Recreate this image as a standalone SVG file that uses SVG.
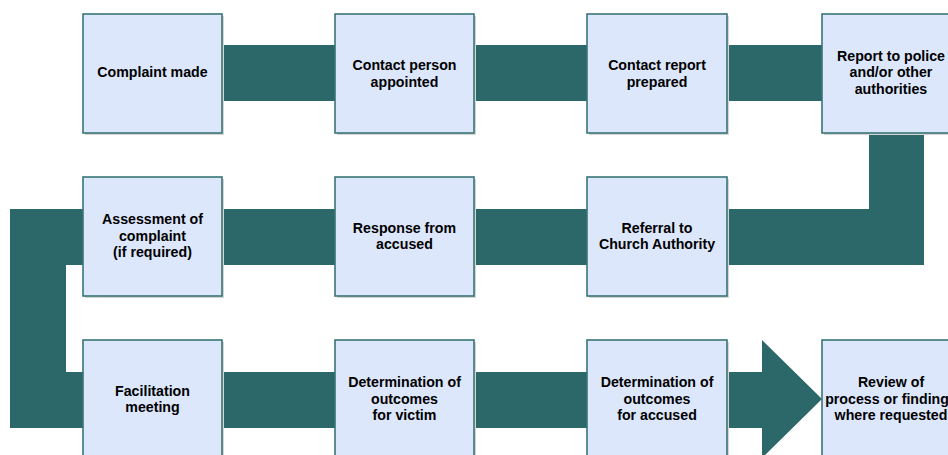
<svg xmlns="http://www.w3.org/2000/svg" width="948" height="455" viewBox="0 0 948 455">
<style>
.band{fill:#2c676a}
.sh{fill:#d4d4d4}
.box{fill:#dce7fc;stroke:#387676;stroke-width:1.6}
.t{font-family:"Liberation Sans",Arial,sans-serif;font-weight:bold;font-size:14.2px;fill:#000;text-anchor:middle}
</style>
<rect width="948" height="455" fill="#fff"/>
<g id="connectors">
<rect class="band" x="222" y="45" width="600" height="56"/>
<path class="band" d="M869,133 H924 V265 H474 V209 H869 Z"/>
<rect class="band" x="222" y="209" width="300" height="56"/>
<path class="band" d="M83,209 H10 V428 H762 V458 L822,399 L762,340 V372 H66 V265 H83 Z"/>
</g>
<g id="n1"><rect class="sh" x="85" y="16" width="139" height="119"/><rect class="box" x="83" y="14" width="139" height="119"/><text class="t" x="152.5" y="77">Complaint made</text></g>
<g id="n2"><rect class="sh" x="337" y="16" width="139" height="119"/><rect class="box" x="335" y="14" width="139" height="119"/><text class="t" x="404.5" y="70">Contact person</text><text class="t" x="404.5" y="86.5">appointed</text></g>
<g id="n3"><rect class="sh" x="589" y="16" width="140" height="119"/><rect class="box" x="587" y="14" width="140" height="119"/><text class="t" x="657" y="70">Contact report</text><text class="t" x="657" y="86.5">prepared</text></g>
<g id="n4"><rect class="sh" x="824" y="16" width="140" height="119"/><rect class="box" x="822" y="14" width="140" height="119"/><text class="t" x="891" y="60.5">Report to police</text><text class="t" x="891" y="77">and/or other</text><text class="t" x="891" y="93.5">authorities</text></g>
<g id="n5"><rect class="sh" x="85" y="179" width="139" height="119"/><rect class="box" x="83" y="177" width="139" height="119"/><text class="t" x="152.5" y="224">Assessment of</text><text class="t" x="152.5" y="240.5">complaint</text><text class="t" x="152.5" y="257">(if required)</text></g>
<g id="n6"><rect class="sh" x="337" y="179" width="139" height="119"/><rect class="box" x="335" y="177" width="139" height="119"/><text class="t" x="404.5" y="232.5">Response from</text><text class="t" x="404.5" y="249">accused</text></g>
<g id="n7"><rect class="sh" x="589" y="179" width="140" height="119"/><rect class="box" x="587" y="177" width="140" height="119"/><text class="t" x="657" y="232.5">Referral to</text><text class="t" x="657" y="249">Church Authority</text></g>
<g id="n8"><rect class="sh" x="85" y="342" width="139" height="119"/><rect class="box" x="83" y="340" width="139" height="119"/><text class="t" x="152.5" y="395.5">Facilitation</text><text class="t" x="152.5" y="412">meeting</text></g>
<g id="n9"><rect class="sh" x="337" y="342" width="139" height="119"/><rect class="box" x="335" y="340" width="139" height="119"/><text class="t" x="404.5" y="387">Determination of</text><text class="t" x="404.5" y="403.5">outcomes</text><text class="t" x="404.5" y="420">for victim</text></g>
<g id="n10"><rect class="sh" x="589" y="342" width="140" height="119"/><rect class="box" x="587" y="340" width="140" height="119"/><text class="t" x="657" y="387">Determination of</text><text class="t" x="657" y="403.5">outcomes</text><text class="t" x="657" y="420">for accused</text></g>
<g id="n11"><rect class="sh" x="824" y="342" width="140" height="119"/><rect class="box" x="822" y="340" width="140" height="119"/><text class="t" x="891" y="387">Review of</text><text class="t" x="891" y="403.5">process or findings</text><text class="t" x="891" y="420">where requested</text></g>
</svg>
